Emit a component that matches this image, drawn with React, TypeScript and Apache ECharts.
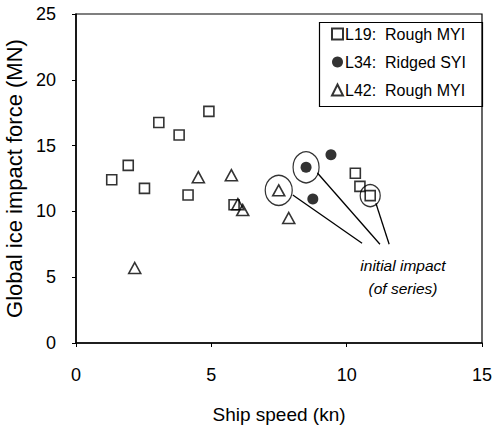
import React, { useEffect, useRef } from "react";
import * as echarts from "echarts";

const L19: number[][] = [
  [1.32, 12.4], [1.93, 13.5], [2.53, 11.75], [3.06, 16.75], [3.81, 15.8],
  [4.91, 17.6], [4.14, 11.25], [5.84, 10.5], [10.32, 12.9], [10.49, 11.9], [10.87, 11.2],
];
const L34: number[][] = [[8.5, 13.35], [9.42, 14.3], [8.75, 10.95]];
const L42: number[][] = [
  [2.17, 5.7], [4.52, 12.6], [5.74, 12.75], [5.98, 10.55], [6.16, 10.1], [7.49, 11.6], [7.86, 9.5],
];
// initial impact highlights: [x, y, width px, height px]
const initialImpacts: number[][] = [[7.49, 11.6, 27, 30], [8.5, 13.35, 26, 31], [10.87, 11.2, 20, 22]];
// connector lines: start (x,y) -> end (x,y)
const connectors: number[][][] = [
  [[8.01, 11.25], [10.57, 7.58]],
  [[8.92, 12.92], [11.23, 7.5]],
  [[11.08, 10.62], [11.57, 7.5]],
];
const annotationPos: number[] = [12.08, 5.05];
const annotationText = "initial impact\n(of series)";
const seriesNames = ["L19:  Rough MYI", "L34:  Ridged SYI", "L42:  Rough MYI"];

const FONT = "Arial, 'Liberation Sans', sans-serif";

export default function App() {
  const ref = useRef<HTMLDivElement>(null);
  useEffect(() => {
    document.body.style.margin = "0";
    if (!ref.current) return;
    const chart = echarts.init(ref.current, undefined, { renderer: "svg" });
    const hollow = { color: "rgba(255,255,255,0)", borderColor: "#000", borderWidth: 1.6 };
    const option: any = {
      animation: false,
      backgroundColor: "#fff",
      textStyle: { fontFamily: FONT, color: "#000" },
      grid: {
        left: 76, top: 14, right: 15, bottom: 83,
        outerBoundsMode: "none", containLabel: false,
        show: true, borderColor: "#000", borderWidth: 1.2, backgroundColor: "transparent",
      },
      xAxis: {
        type: "value", min: 0, max: 15, interval: 5,
        name: "Ship speed (kn)", nameLocation: "middle", nameGap: 62,
        nameTextStyle: { fontSize: 19, color: "#000", fontFamily: FONT },
        axisLine: { lineStyle: { color: "#000", width: 1.5 } },
        axisTick: { inside: false, length: 4, lineStyle: { color: "#000" } },
        axisLabel: { fontSize: 18, color: "#000", margin: 23, fontFamily: FONT },
        splitLine: { show: false },
      },
      yAxis: {
        type: "value", min: 0, max: 25, interval: 5,
        name: "Global ice impact force (MN)", nameLocation: "middle", nameGap: 50,
        nameTextStyle: { fontSize: 22, color: "#000", fontFamily: FONT },
        axisLine: { show: true, lineStyle: { color: "#000", width: 1.5 } },
        axisTick: { show: true, inside: false, length: 4, lineStyle: { color: "#000" } },
        axisLabel: { fontSize: 18, color: "#000", margin: 20, fontFamily: FONT },
        splitLine: { show: false },
      },
      legend: {
        data: seriesNames,
        orient: "vertical",
        left: 326, top: 21,
        itemWidth: 11, itemHeight: 11, itemGap: 12,
        textStyle: { fontSize: 16, color: "#000", fontFamily: FONT, padding: [0, 0, 0, -3] },
        selectedMode: false,
      },
      graphic: [
        {
          type: "rect", left: 317, top: 20, z: 0,
          shape: { width: 163, height: 84 },
          style: { fill: "none", stroke: "#000", lineWidth: 1.2 },
        },
      ],
      series: [
        {
          name: seriesNames[0], type: "scatter", symbol: "rect", symbolSize: 10,
          itemStyle: hollow, data: L19, z: 3,
        },
        {
          name: seriesNames[1], type: "scatter", symbol: "circle", symbolSize: 11,
          itemStyle: { color: "#000" }, data: L34, z: 3,
        },
        {
          name: seriesNames[2], type: "scatter", symbol: "triangle", symbolSize: [12, 11],
          itemStyle: hollow, data: L42, z: 3,
        },
        {
          name: "highlight", type: "scatter", symbol: "circle", silent: true,
          symbolSize: (v: number[]) => [v[2], v[3]],
          itemStyle: { color: "rgba(255,255,255,0)", borderColor: "#000", borderWidth: 1.3 },
          data: initialImpacts, z: 2,
        },
        ...connectors.map((c, i) => ({
          name: "connector" + i, type: "line", silent: true, symbol: "none",
          lineStyle: { color: "#000", width: 1.3 }, data: c, z: 2,
        })),
        {
          name: "annotation", type: "scatter", silent: true, symbolSize: 0,
          data: [annotationPos],
          itemStyle: { color: "#000", opacity: 1 },
          label: {
            show: true, position: "inside", formatter: annotationText,
            fontSize: 15.5, fontStyle: "italic", color: "#000", lineHeight: 23, fontFamily: FONT,
            textBorderWidth: 0, opacity: 1,
          },
        },
      ],
    };
    chart.setOption(option);
    return () => chart.dispose();
  }, []);
  return <div ref={ref} style={{ width: 497, height: 426 }} />;
}
